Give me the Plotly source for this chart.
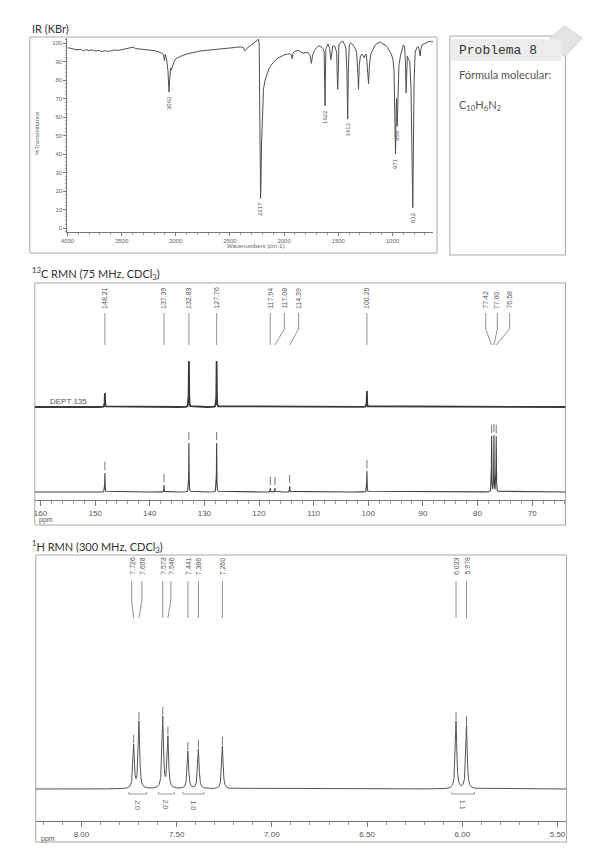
import numpy as np
import plotly.graph_objects as go

W, H = 599, 848


def px(x):
    return x / W


def py(y):
    return 1 - y / H


# ---------------- data ----------------
ir_wavenumber = [4000, 3970, 3940, 3910, 3880, 3850, 3830, 3800, 3770, 3740, 3710, 3680, 3650, 3620,
                 3590, 3560, 3530, 3500, 3470, 3440, 3410, 3390, 3370, 3340, 3310, 3280, 3250, 3220,
                 3190, 3160, 3130, 3112, 3104, 3097, 3085, 3072, 3062, 3055, 3048, 3040, 3030, 3015,
                 3000, 2970, 2940, 2900, 2860, 2820, 2780, 2740, 2700, 2650, 2600, 2550, 2500, 2450,
                 2400, 2375, 2362, 2350, 2335, 2310, 2290, 2270, 2250, 2238, 2230, 2224, 2219, 2217,
                 2214, 2208, 2200, 2190, 2175, 2160, 2140, 2120, 2100, 2075, 2050, 2020, 2000, 1970,
                 1945, 1932, 1925, 1918, 1900, 1880, 1860, 1840, 1820, 1800, 1780, 1760, 1748, 1738,
                 1720, 1700, 1685, 1660, 1640, 1630, 1625, 1622, 1619, 1614, 1595, 1580, 1568, 1560,
                 1550, 1530, 1515, 1508, 1505, 1500, 1494, 1475, 1458, 1440, 1430, 1420, 1413, 1406,
                 1398, 1386, 1365, 1345, 1330, 1318, 1313, 1306, 1295, 1280, 1260, 1248, 1240, 1228,
                 1220, 1212, 1200, 1188, 1170, 1158, 1135, 1113, 1090, 1067, 1045, 1030, 1010, 995,
                 985, 978, 971, 966, 962, 956, 950, 940, 926, 912, 899, 888, 880, 874, 868, 862, 857,
                 840, 828, 820, 812, 806, 800, 790, 775, 762, 752, 745, 738, 726, 710, 690, 670, 653,
                 640, 626]
ir_transmittance = [97.5, 97.2, 96.8, 96.3, 96.6, 95.8, 96.4, 95.9, 96.3, 95.6, 96.0, 95.4, 95.8, 95.5,
                    95.9, 96.2, 96.0, 96.3, 96.6, 96.9, 97.4, 97.8, 97.0, 96.8, 96.9, 96.5, 96.4, 96.0,
                    95.8, 95.2, 94.6, 93.5, 90.5, 93.8, 91.5, 85.0, 73.5, 81.0, 86.5, 85.5, 88.0, 90.0,
                    91.5, 92.5, 93.2, 94.0, 94.6, 95.2, 95.6, 95.9, 96.2, 96.5, 96.8, 97.0, 97.3, 97.6,
                    97.9, 97.5, 95.8, 96.4, 97.6, 98.6, 99.6, 100.6, 101.5, 102.0, 100.0, 60.0, 25.0, 16.0,
                    22.0, 45.0, 66.0, 75.0, 80.0, 83.0, 86.0, 88.0, 89.5, 91.0, 92.0, 93.0, 93.5, 94.0,
                    94.2, 93.5, 91.5, 94.5, 95.5, 96.0, 95.8, 95.0, 94.5, 94.8, 95.0, 93.0, 89.0, 93.0,
                    96.0, 97.5, 98.5, 98.0, 97.0, 95.0, 80.0, 66.0, 80.0, 97.0, 99.5, 97.0, 91.0, 96.0,
                    98.5, 98.0, 95.0, 80.0, 75.0, 84.0, 99.0, 100.5, 101.0, 99.0, 97.0, 85.0, 59.0, 88.0,
                    99.0, 100.0, 99.0, 97.0, 95.0, 82.0, 75.0, 88.0, 93.0, 94.0, 92.0, 94.0, 93.5, 84.0,
                    78.0, 88.0, 94.0, 95.5, 98.0, 99.0, 100.0, 100.5, 99.5, 99.0, 97.5, 96.0, 94.0, 91.0,
                    85.0, 60.0, 40.0, 62.0, 70.0, 55.0, 75.0, 88.0, 93.0, 97.0, 99.0, 98.0, 90.0, 73.0,
                    88.0, 93.0, 92.0, 90.0, 75.0, 40.0, 11.0, 45.0, 80.0, 95.0, 97.5, 98.0, 96.0, 93.0,
                    96.5, 99.0, 99.5, 100.0, 100.5, 101.0, 100.6, 100.8]
ir_peak_labels = [3062, 2217, 1622, 1413, 971, 956, 812]
ir_ticks = [4000, 3500, 3000, 2500, 2000, 1500, 1000]

c13_ppm = [148.21, 137.39, 132.83, 127.76, 117.94, 117.08, 114.39, 100.25, 77.42, 77.00, 76.58]
c13_labels = ["148.21", "137.39", "132.83", "127.76", "117.94", "117.08", "114.39", "100.25",
              "77.42", "77.00", "76.58"]
c13_height = [19, 7, 49, 49, 4, 4, 6, 21, 56, 57, 56]
dept_ppm = [148.21, 132.83, 127.76, 100.25]
dept_height = [14, 46, 46, 16]

h1_ppm = [7.726, 7.698, 7.573, 7.546, 7.441, 7.386, 7.260, 6.033, 5.978]
h1_labels = ["7.726", "7.698", "7.573", "7.546", "7.441", "7.386", "7.260", "6.033", "5.978"]
h1_height = [45, 68, 73, 53, 38, 40, 43, 68, 64]
h1_int_from = [7.751, 7.595, 7.466, 6.055]
h1_int_to = [7.658, 7.512, 7.357, 5.936]
h1_int_values = ["2.0", "2.0", "1.0", "1.1"]

# ---------------- styling / layout constants ----------------
IR_X = (53, 423)
IR_Y = (30, 224)
IR_RANGE_X = [4000, 625]
IR_RANGE_Y = [-2.16, 102.7]
C_X = (20, 557)
C_Y = (275, 492)
C_RANGE_X = [161.05, 63.9]
H_X = (21, 558)
H_Y = (547, 813)
H_RANGE_X = [8.24, 5.453]

# label shifts (px) for crowded labels
c13_label_shift = [0, 0, 0, 0, 0, 9.5, 9, 0, -6, 3.4, 13.5]
h1_label_shift = [-2, 3, 0, 3, 0, 0, 0, 0, 0]

LINE = '#444'
TXT = '#555'
BOX = '#a8a8a8'
SANS = 'Liberation Sans, Arial, sans-serif'
TITLE_FONT = 'Lato, Open Sans, sans-serif'


def lorentz_sum(grid, centers, heights, hwhm):
    c = np.asarray(centers, float)
    h = np.asarray(heights, float)
    A = 1.0 / (1.0 + ((c[:, None] - c[None, :]) / hwhm) ** 2)
    amps = np.linalg.solve(A, h)
    return (amps[None, :] / (1.0 + ((grid[:, None] - c[None, :]) / hwhm) ** 2)).sum(axis=1)


fig = go.Figure()

# IR
fig.add_trace(go.Scatter(x=ir_wavenumber, y=ir_transmittance, xaxis='x', yaxis='y', mode='lines',
                         line=dict(color='#505050', width=1), hoverinfo='skip'))

# 13C and DEPT
c_grid = np.union1d(np.arange(C_RANGE_X[1], C_RANGE_X[0], 0.01), c13_ppm)
c_spec = lorentz_sum(c_grid, c13_ppm, c13_height, 0.035)
fig.add_trace(go.Scatter(x=c_grid, y=c_spec, xaxis='x2', yaxis='y2', mode='lines',
                         line=dict(color=LINE, width=1.1), hoverinfo='skip'))
fig.add_trace(go.Scatter(x=c13_ppm, y=np.array(c13_height) + 7, xaxis='x2', yaxis='y2', mode='markers',
                         marker=dict(symbol='line-ns', size=6, line=dict(width=1, color='#777')),
                         hoverinfo='skip'))
d_grid = np.union1d(np.arange(C_RANGE_X[1], C_RANGE_X[0], 0.01), dept_ppm)
d_spec = lorentz_sum(d_grid, dept_ppm, dept_height, 0.035)
fig.add_trace(go.Scatter(x=d_grid, y=d_spec, xaxis='x2', yaxis='y3', mode='lines',
                         line=dict(color='#3a3a3a', width=1.8), hoverinfo='skip'))

# 1H
h_grid = np.union1d(np.arange(H_RANGE_X[1], H_RANGE_X[0], 0.0004), h1_ppm)
h_spec = lorentz_sum(h_grid, h1_ppm, h1_height, 0.0045)
fig.add_trace(go.Scatter(x=h_grid, y=h_spec, xaxis='x3', yaxis='y4', mode='lines',
                         line=dict(color='#555', width=1), hoverinfo='skip'))
fig.add_trace(go.Scatter(x=h1_ppm, y=np.array(h1_height) + 5, xaxis='x3', yaxis='y4', mode='markers',
                         marker=dict(symbol='line-ns', size=6, line=dict(width=1, color='#777')),
                         hoverinfo='skip'))

shapes = []
ann = []


def rect(x0, y0, x1, y1, color=BOX, fill=None, width=1):
    shapes.append(dict(type='rect', xref='paper', yref='paper', x0=px(x0), x1=px(x1), y0=py(y0), y1=py(y1),
                       line=dict(color=color, width=width), fillcolor=fill, layer='below'))


def text(x, y, s, size=8, xanchor='left', yanchor='middle', angle=0, family=SANS, color=TXT, xref='paper',
         yref='paper', **kw):
    ann.append(dict(x=x, y=y, xref=xref, yref=yref, text=s, showarrow=False, xanchor=xanchor,
                    yanchor=yanchor, textangle=angle, font=dict(size=size, family=family, color=color), **kw))


# boxes
rect(15, 29, 427, 245)
rect(C_X[0], C_Y[0], C_X[1], 517)
rect(H_X[0], H_Y[0], H_X[1], 834)
rect(440, 28, 557, 247)
# Problema header band + tab
shapes.append(dict(type='path', xref='paper', yref='paper',
                   path=f"M {px(538)},{py(33)} L {px(556)},{py(18)} L {px(574)},{py(30)} L {px(556)},{py(49)} Z",
                   fillcolor='#e4e4e4', line=dict(color='#d4d4d4', width=1), layer='below'))
rect(441, 31, 553, 53, color='rgba(0,0,0,0)', fill='#ededed')

# titles
text(px(15), py(20), "IR (KBr)", size=11, family=TITLE_FONT, color='#333')
text(px(15), py(265), "<sup>13</sup>C RMN (75 MHz, CDCl<sub>3</sub>)", size=11, family=TITLE_FONT, color='#333')
text(px(15), py(538), "<sup>1</sup>H RMN (300 MHz, CDCl<sub>3</sub>)", size=11, family=TITLE_FONT, color='#333')

# problema box text
text(px(447), py(42), "Problema 8", size=13, family='Liberation Mono, Courier New, monospace', color='#333')
text(px(447), py(67), "Fórmula molecular:", size=11, family=TITLE_FONT, color='#555')
text(px(447), py(97), "C<sub>10</sub>H<sub>6</sub>N<sub>2</sub>", size=11, family=TITLE_FONT, color='#555')

# IR axis titles
text(px(22), py(125), "%Transmittance", size=6, xanchor='center', angle=-90, color='#666')
text(px(243), py(238), "Wavenumbers (cm-1)", size=6, xanchor='center', color='#666')

# IR peak labels
for w in ir_peak_labels:
    i = ir_wavenumber.index(w)
    text(w, ir_transmittance[i], str(w), size=6, xanchor='center', yanchor='top', angle=-90,
         xref='x', yref='y', yshift=-2, color='#555')

# 13C labels + leaders
cppx = (C_X[1] - C_X[0]) / (C_RANGE_X[0] - C_RANGE_X[1])
for p, lab, s in zip(c13_ppm, c13_labels, c13_label_shift):
    lx = p - s / cppx
    text(lx, py(303), lab, size=7, xanchor='center', yanchor='bottom', angle=-90, xref='x2', color='#555')
    shapes.append(dict(type='path', xref='x2', yref='paper',
                       path=f"M {lx},{py(305)} L {lx},{py(321)} L {p},{py(337)}",
                       line=dict(color='#777', width=0.8)))
text(px(33), py(393), "DEPT 135", size=8, color='#555')
text(px(22), py(512), "ppm", size=7, color='#555')

# 1H labels + leaders
hppx = (H_X[1] - H_X[0]) / (H_RANGE_X[0] - H_RANGE_X[1])
for p, lab, s in zip(h1_ppm, h1_labels, h1_label_shift):
    lx = p - s / hppx
    text(lx, py(569), lab, size=7, xanchor='center', yanchor='bottom', angle=-90, xref='x3', color='#555')
    shapes.append(dict(type='path', xref='x3', yref='paper',
                       path=f"M {lx},{py(573)} L {lx},{py(592)} L {p},{py(610)}",
                       line=dict(color='#777', width=0.8)))

# integrals
for a, b, v in zip(h1_int_from, h1_int_to, h1_int_values):
    shapes.append(dict(type='path', xref='x3', yref='paper',
                       path=f"M {a},{py(784)} L {a},{py(786)} L {b},{py(786)} L {b},{py(784)}",
                       line=dict(color='#999', width=1)))
    text((a + b) / 2, py(797), v, size=7, xanchor='center', yanchor='middle', angle=90, xref='x3',
         color='#666')
text(px(24), py(831), "ppm", size=7, color='#555')

axis_common = dict(showgrid=False, zeroline=False, showline=True, linecolor='#777', linewidth=1,
                   ticks='outside', tickcolor='#777', fixedrange=True)

fig.update_layout(
    width=W, height=H, margin=dict(l=0, r=0, t=0, b=0), paper_bgcolor='white', plot_bgcolor='rgba(0,0,0,0)',
    showlegend=False, shapes=shapes, annotations=ann,
    xaxis=dict(domain=[px(IR_X[0]), px(IR_X[1])], range=IR_RANGE_X, anchor='y', tickmode='array',
               tickvals=ir_ticks, ticklen=3, tickfont=dict(size=6, family=SANS, color='#666'),
               minor=dict(dtick=100, ticklen=2, ticks='outside', tickcolor='#999'), **axis_common),
    yaxis=dict(domain=[py(IR_Y[1]), py(IR_Y[0])], range=IR_RANGE_Y, anchor='x', tick0=0, dtick=10,
               ticklen=3, tickfont=dict(size=6, family=SANS, color='#666'),
               minor=dict(dtick=2, ticklen=1.5, ticks='outside', tickcolor='#999'), **axis_common),
    xaxis2=dict(domain=[px(C_X[0]), px(C_X[1])], range=C_RANGE_X, anchor='y2', tick0=0, dtick=10,
                ticklen=5, tickfont=dict(size=8, family=SANS, color='#555'),
                minor=dict(dtick=2, ticklen=3, ticks='outside', tickcolor='#999'), **axis_common),
    yaxis2=dict(domain=[py(C_Y[1]), py(C_Y[0])], range=[-8, 209], anchor='x2', visible=False, fixedrange=True),
    yaxis3=dict(range=[-93, 124], anchor='x2', overlaying='y2', visible=False, fixedrange=True),
    xaxis3=dict(domain=[px(H_X[0]), px(H_X[1])], range=H_RANGE_X, anchor='y4', tick0=0, dtick=0.5,
                tickformat='.2f', ticklen=5, tickfont=dict(size=8, family=SANS, color='#555'),
                minor=dict(dtick=0.1, ticklen=3, ticks='outside', tickcolor='#999'), **axis_common),
    yaxis4=dict(domain=[py(H_Y[1]), py(H_Y[0])], range=[-32, 234], anchor='x3', visible=False, fixedrange=True),
)

fig.write_html("out.html")
